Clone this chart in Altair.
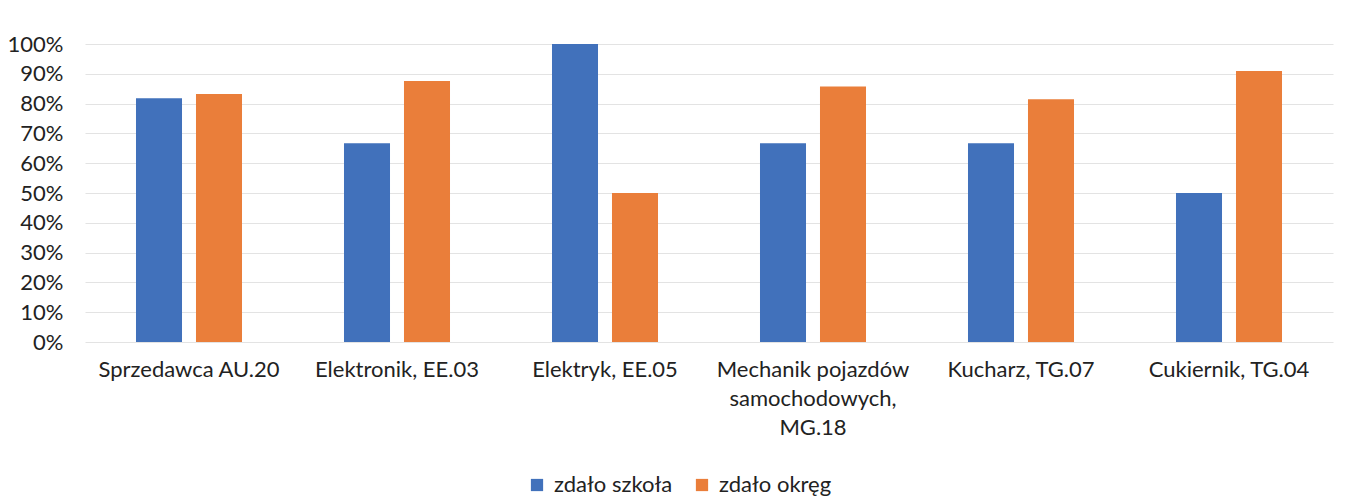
import altair as alt
import pandas as pd

categories = ["Sprzedawca AU.20", "Elektronik, EE.03", "Elektryk, EE.05",
              "Mechanik pojazdów samochodowych, MG.18", "Kucharz, TG.07", "Cukiernik, TG.04"]
szkola = [0.818, 0.667, 1.0, 0.667, 0.667, 0.50]
okreg = [0.832, 0.876, 0.50, 0.857, 0.815, 0.909]
series = ["zdało szkoła", "zdało okręg"]
y_ticks = [i / 10 for i in range(11)]

rows = []
for c, a, b in zip(categories, szkola, okreg):
    rows.append({"kat": c, "seria": series[0], "v": a})
    rows.append({"kat": c, "seria": series[1], "v": b})
df = pd.DataFrame(rows)

FONT = "Lato"

chart = alt.Chart(df).mark_bar().encode(
    x=alt.X("kat:N", sort=categories, title=None,
            scale=alt.Scale(paddingInner=0, paddingOuter=0),
            axis=alt.Axis(labelAngle=0, labelFontSize=22, labelFont=FONT, labelColor="#222222",
                          labelPadding=17, ticks=False, domain=False, labelLineHeight=29,
                          labelBaseline="top", labelLimit=0,
                          labelExpr="datum.label == 'Mechanik pojazdów samochodowych, MG.18' ? ['Mechanik pojazdów', 'samochodowych,', 'MG.18'] : datum.label")),
    xOffset=alt.XOffset("seria:N", sort=series,
                        scale=alt.Scale(paddingInner=0.233, paddingOuter=0.85)),
    y=alt.Y("v:Q", title=None,
            scale=alt.Scale(domain=[0, 1], nice=False),
            axis=alt.Axis(values=y_ticks, format=".0%", labelFontSize=22, labelFont=FONT,
                          labelColor="#222222", ticks=False, domain=False, labelPadding=22,
                          gridColor="#e3e3e3", gridWidth=1)),
    color=alt.Color("seria:N", sort=series,
                    scale=alt.Scale(domain=series, range=["#4171BB", "#EA7E3A"]),
                    legend=alt.Legend(title=None, orient="none", direction="horizontal",
                                      legendX=441, legendY=430, symbolType="square",
                                      symbolSize=150, symbolStrokeWidth=0, labelFontSize=22,
                                      labelFont=FONT, labelColor="#222222", columnPadding=18,
                                      labelOffset=6, labelLimit=0)),
).properties(
    width=1248, height=298,
    autosize=alt.AutoSizeParams(type="none"),
    padding={"left": 77, "top": 36, "right": 10, "bottom": 154},
).configure_view(stroke=None)

chart.save("out.html", embed_options={"renderer": "svg", "actions": False})
